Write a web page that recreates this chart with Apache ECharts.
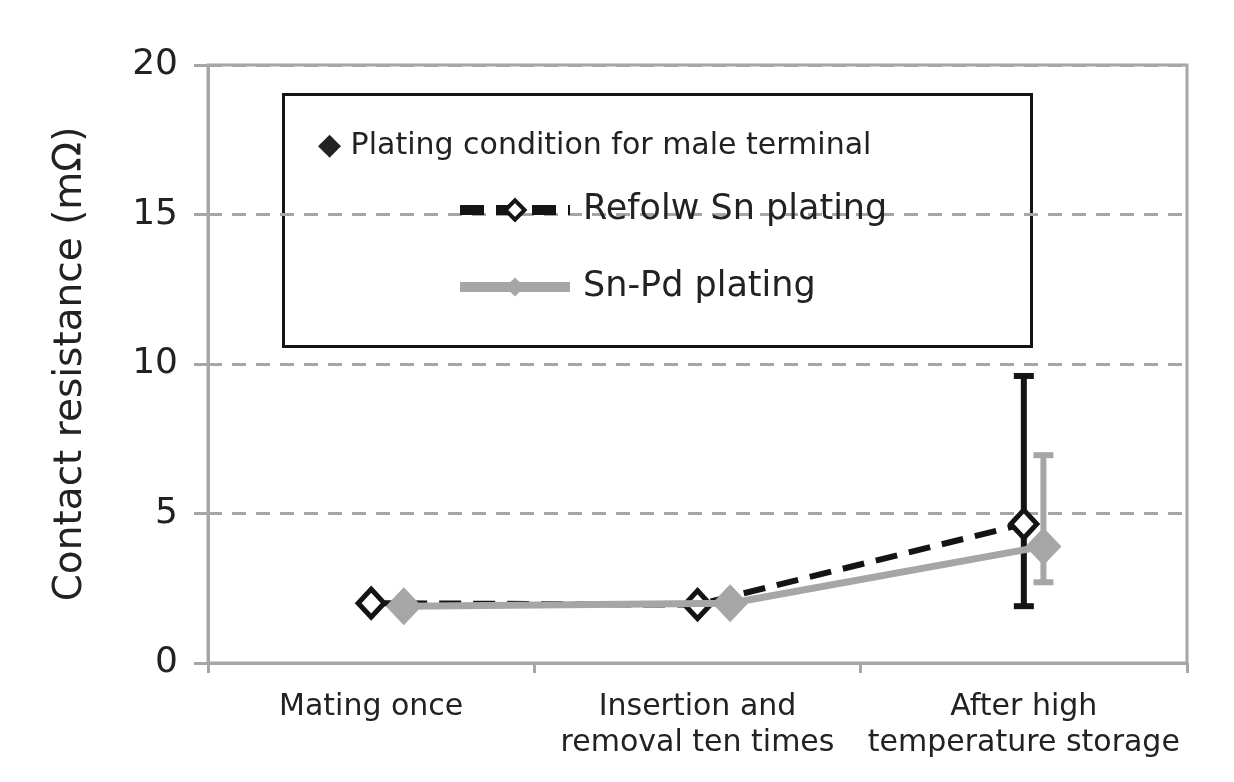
<!DOCTYPE html>
<html>
<head>
<meta charset="utf-8">
<script src="https://cdn.jsdelivr.net/npm/echarts@6/dist/echarts.min.js"></script>
<style>
html,body{margin:0;padding:0;background:#fff;}
#chart{width:1234px;height:782px;}
</style>
</head>
<body>
<div id="chart"></div>
<script>
// ---- data ----
const categories = ['Mating once', 'Insertion and\nremoval ten times', 'After high\ntemperature storage'];
const yTicks = [0, 5, 10, 15, 20];
const reflowSn = [2.0, 1.95, 4.65];
const snPd = [1.9, 2.0, 3.9];
const reflowErrLow = [null, null, 1.9];
const reflowErrHigh = [null, null, 9.6];
const snPdErrLow = [null, null, 2.7];
const snPdErrHigh = [null, null, 6.95];
const seriesNames = ['Refolw Sn plating', 'Sn-Pd plating'];
const legendTitle = 'Plating condition for male terminal';
const axisTitle = 'Contact resistance (mΩ)';

// ---- styling / layout ----
const FONT = 'DejaVu Sans';
const GRAY = '#a6a6a6';
const BLACK = '#141414';
const snPdShift = [0.1, 0.1, 0.06]; // horizontal dodge of second series within a category

const reflowPts = reflowSn.map((v, i) => [i + 0.5, v]);
const snPdPts = snPd.map((v, i) => [i + 0.5 + snPdShift[i], v]);
const reflowErr = reflowErrLow.map((lo, i) => lo == null ? null : [i + 0.5, lo, reflowErrHigh[i]]).filter(Boolean);
const snPdErr = snPdErrLow.map((lo, i) => lo == null ? null : [i + 0.5 + snPdShift[i], lo, snPdErrHigh[i]]).filter(Boolean);

function errRender(color, lw) {
  return function (params, api) {
    const x = api.value(0);
    const lo = api.coord([x, api.value(1)]);
    const hi = api.coord([x, api.value(2)]);
    const half = 10;
    const st = { stroke: color, lineWidth: lw };
    return {
      type: 'group',
      children: [
        { type: 'line', shape: { x1: lo[0], y1: lo[1], x2: hi[0], y2: hi[1] }, style: st },
        { type: 'line', shape: { x1: hi[0] - half, y1: hi[1], x2: hi[0] + half, y2: hi[1] }, style: st },
        { type: 'line', shape: { x1: lo[0] - half, y1: lo[1], x2: lo[0] + half, y2: lo[1] }, style: st }
      ]
    };
  };
}

const chart = echarts.init(document.getElementById('chart'), null, { renderer: 'canvas' });
const option = {
  backgroundColor: '#ffffff',
  animation: false,
  grid: {
    left: 208, right: 47, top: 65, bottom: 119,
    show: true, borderColor: GRAY, borderWidth: 3, backgroundColor: 'transparent'
  },
  legend: {
    data: [
      { name: seriesNames[0], lineStyle: { width: 10, type: [24, 12], color: BLACK }, itemStyle: { color: '#fff', borderColor: BLACK, borderWidth: 4 } },
      { name: seriesNames[1], lineStyle: { width: 10, type: 'solid', color: GRAY }, itemStyle: { color: GRAY, borderWidth: 0 } }
    ],
    orient: 'vertical',
    left: 455, top: 192, padding: 0,
    itemWidth: 110, itemHeight: 24, itemGap: 41,
    textStyle: { fontFamily: FONT, fontSize: 35, color: '#222', lineHeight: 36, padding: [0, 0, 0, 8] }
  },
  xAxis: [
    {
      type: 'category', data: categories, boundaryGap: true,
      axisLine: { lineStyle: { color: GRAY, width: 3 } },
      axisTick: { show: true, length: 10, lineStyle: { color: GRAY, width: 3 } },
      axisLabel: { fontFamily: FONT, fontSize: 30, color: '#222', lineHeight: 36, margin: 26, interval: 0 },
      splitLine: { show: false }
    },
    { type: 'value', min: 0, max: 3, show: false }
  ],
  yAxis: [
    {
      type: 'value', min: yTicks[0], max: yTicks[yTicks.length - 1], interval: yTicks[1] - yTicks[0],
      name: axisTitle, nameLocation: 'middle', nameGap: 118, nameRotate: 90,
      nameTextStyle: { fontFamily: FONT, fontSize: 39, color: '#222' },
      axisLine: { show: true, lineStyle: { color: GRAY, width: 3 } },
      axisTick: { show: true, inside: true, length: 14, lineStyle: { color: GRAY, width: 3 } },
      axisLabel: { fontFamily: FONT, fontSize: 36, color: '#222', margin: 30 },
      splitLine: { show: true, lineStyle: { color: GRAY, width: 3, type: [14, 10] } }
    },
    {
      type: 'value', min: yTicks[0], max: yTicks[yTicks.length - 1], interval: yTicks[1] - yTicks[0],
      position: 'right', offset: -979,
      axisLine: { show: false },
      axisTick: { show: true, inside: true, length: 14, lineStyle: { color: GRAY, width: 3 } },
      axisLabel: { show: false },
      splitLine: { show: false }
    }
  ],
  graphic: [
    {
      type: 'rect', left: 282, top: 93, z: 0,
      shape: { width: 748, height: 252 },
      style: { fill: '#fff', stroke: BLACK, lineWidth: 3 }
    },
    {
      type: 'text', left: 318, top: 131, z: 10,
      style: { text: '◆ ' + legendTitle, font: '30px "DejaVu Sans"', fill: '#222' }
    }
  ],
  series: [
    {
      type: 'custom', name: 'errReflow', xAxisIndex: 1, yAxisIndex: 0, z: 1,
      renderItem: errRender(BLACK, 6), data: reflowErr, encode: { x: 0, y: [1, 2] }
    },
    {
      type: 'custom', name: 'errSnPd', xAxisIndex: 1, yAxisIndex: 0, z: 1,
      renderItem: errRender(GRAY, 6), data: snPdErr, encode: { x: 0, y: [1, 2] }
    },
    {
      name: seriesNames[0], type: 'line', xAxisIndex: 1, yAxisIndex: 0, z: 2,
      data: reflowPts,
      symbol: 'diamond', symbolSize: [26, 28], showSymbol: true,
      lineStyle: { color: BLACK, width: 6, type: [22, 12] },
      itemStyle: { color: '#fff', borderColor: BLACK, borderWidth: 5 }
    },
    {
      name: seriesNames[1], type: 'line', xAxisIndex: 1, yAxisIndex: 0, z: 3,
      data: snPdPts,
      symbol: 'diamond', symbolSize: [36, 38], showSymbol: true,
      lineStyle: { color: GRAY, width: 7 },
      itemStyle: { color: GRAY, borderWidth: 0 }
    }
  ]
};
chart.setOption(option);
</script>
</body>
</html>
